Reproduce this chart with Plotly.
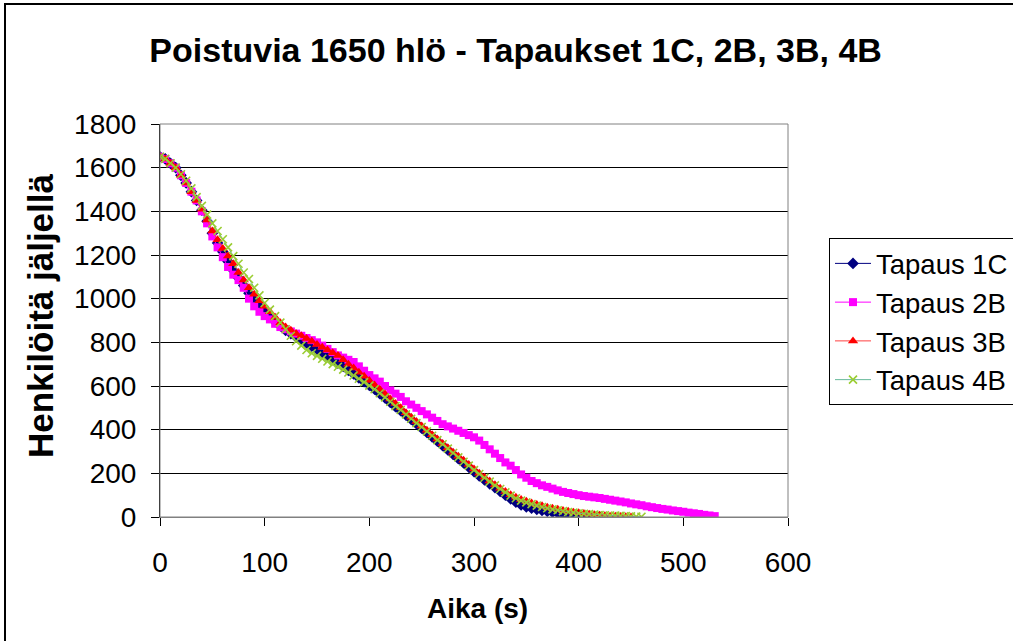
import plotly.graph_objects as go

t_1c = [0,5,10,15,20,25,30,35,40,45,50,55,60,65,70,75,80,85,90,95,
        100,105,110,115,120,125,130,135,140,145,150,155,160,165,170,175,180,185,190,195,
        200,205,210,215,220,225,230,235,240,245,250,255,260,265,270,275,280,285,290,295,
        300,305,310,315,320,325,330,335,340,345,350,355,360,365,370,375,380,385,390,395,
        400,405,410,415,420]
v_1c = [1650,1640,1620,1600,1565,1530,1490,1450,1405,1355,
        1300,1255,1215,1170,1130,1095,1060,1025,995,965,
        940,915,895,875,855,840,825,810,797,783,
        768,752,737,721,705,690,672,655,637,620,
        603,585,565,545,525,505,487,467,447,427,
        407,387,367,347,327,307,287,267,248,228,
        208,188,170,152,135,117,100,83,68,55,
        46,40,35,30,26,22,18,15,12,9,
        7,5,3,1,0]

t_2b = [0,5,10,15,20,25,30,35,40,45,50,55,60,65,70,75,80,85,90,95,
        100,105,110,115,120,125,130,135,140,145,150,155,160,165,170,175,180,185,190,195,
        200,205,210,215,220,225,230,235,240,245,250,255,260,265,270,275,280,285,290,295,
        300,305,310,315,320,325,330,335,340,345,350,355,360,365,370,375,380,385,390,395,
        400,405,410,415,420,425,430,435,440,445,450,455,460,465,470,475,480,485,490,495,
        500,505,510,515,520,525,530]
v_2b = [1650,1640,1620,1600,1565,1530,1490,1450,1400,1345,
        1285,1235,1190,1145,1110,1085,1050,1000,965,940,
        920,905,885,870,860,850,840,830,820,810,
        800,785,770,755,740,730,720,710,690,670,
        650,635,620,600,580,565,550,530,515,500,
        485,470,455,440,425,415,405,395,385,375,
        365,350,330,310,290,270,250,235,215,195,
        180,165,155,145,138,130,122,115,110,105,
        100,96,93,90,87,83,79,75,71,67,
        62,58,54,49,45,41,37,34,30,27,
        24,20,17,14,10,7,4]

t_3b = [0,5,10,15,20,25,30,35,40,45,50,55,60,65,70,75,80,85,90,95,
        100,105,110,115,120,125,130,135,140,145,150,155,160,165,170,175,180,185,190,195,
        200,205,210,215,220,225,230,235,240,245,250,255,260,265,270,275,280,285,290,295,
        300,305,310,315,320,325,330,335,340,345,350,355,360,365,370,375,380,385,390,395,
        400,405,410,415,420,425,430,435,440,445,450]
v_3b = [1650,1640,1620,1600,1565,1530,1490,1450,1410,1360,
        1310,1270,1230,1195,1160,1120,1085,1050,1020,990,
        965,940,915,890,870,855,840,830,818,805,
        790,778,765,752,740,720,700,682,663,645,
        625,605,585,563,540,520,500,478,457,437,
        417,397,377,357,337,317,297,278,260,240,
        220,200,182,165,148,132,117,102,90,80,
        72,64,57,51,45,40,35,30,26,22,
        19,16,13,10,8,6,4,3,2,1,
        0]

t_4b = [0,5,10,15,20,25,30,35,40,45,50,55,60,65,70,75,80,85,90,95,
        100,105,110,115,120,125,130,135,140,145,150,155,160,165,170,175,180,185,190,195,
        200,205,210,215,220,225,230,235,240,245,250,255,260,265,270,275,280,285,290,295,
        300,305,310,315,320,325,330,335,340,345,350,355,360,365,370,375,380,385,390,395,
        400,405,410,415,420,425,430,435,440,445,450,455,460]
v_4b = [1650,1640,1620,1600,1570,1540,1505,1465,1425,1385,
        1345,1310,1272,1235,1195,1160,1120,1090,1050,1015,
        980,950,920,890,860,830,805,785,765,750,
        738,725,712,700,688,675,662,648,633,618,
        602,585,567,548,528,508,490,470,450,430,
        412,392,372,352,333,313,293,273,253,235,
        215,197,180,162,145,128,113,98,86,75,
        67,59,52,46,40,35,31,27,23,20,
        17,15,13,11,9,8,7,6,5,4,
        3,2,1]

series_names = ["Tapaus 1C", "Tapaus 2B", "Tapaus 3B", "Tapaus 4B"]
x_ticks = [0, 100, 200, 300, 400, 500, 600]
y_ticks = [0, 200, 400, 600, 800, 1000, 1200, 1400, 1600, 1800]

FONT = "Arial, Liberation Sans, sans-serif"

fig = go.Figure()
fig.add_trace(go.Scatter(x=t_1c, y=v_1c, name=series_names[0], mode="lines+markers",
                         line=dict(color="#000080", width=1),
                         marker=dict(symbol="diamond", size=9, color="#000080")))
fig.add_trace(go.Scatter(x=t_2b, y=v_2b, name=series_names[1], mode="lines+markers",
                         line=dict(color="#FF00FF", width=1),
                         marker=dict(symbol="square", size=8, color="#FF00FF")))
fig.add_trace(go.Scatter(x=t_3b, y=v_3b, name=series_names[2], mode="lines+markers",
                         line=dict(color="#FF4040", width=1),
                         marker=dict(symbol="triangle-up", size=9, color="#FF0000")))
fig.add_trace(go.Scatter(x=t_4b, y=v_4b, name=series_names[3], mode="lines+markers",
                         line=dict(color="#66B89A", width=1),
                         marker=dict(symbol="x-thin", size=8, color="#9ACD32",
                                     line=dict(color="#9ACD32", width=1.6))))

fig.update_layout(
    width=1013, height=641,
    margin=dict(l=160, r=225, t=124, b=124, autoexpand=False),
    paper_bgcolor="white", plot_bgcolor="white",
    font=dict(family=FONT, size=28, color="black"),
    title=dict(text="<b>Poistuvia 1650 hlö - Tapaukset 1C, 2B, 3B, 4B</b>",
               x=0.509, xref="container", y=1 - 50 / 641, yref="container",
               xanchor="center", yanchor="middle",
               font=dict(family=FONT, size=34, color="black")),
    legend=dict(x=(829 - 160) / 628, y=(517 - 238) / 393, xanchor="left", yanchor="top",
                bordercolor="black", borderwidth=1, bgcolor="white", itemwidth=36,
                font=dict(family=FONT, size=27.5, color="black")),
    showlegend=True,
)

fig.update_xaxes(range=[0, 600], tickvals=x_ticks, ticktext=[str(v) for v in x_ticks],
                 showgrid=False, zeroline=False, showline=True, linecolor="#808080",
                 linewidth=1, ticks="outside", ticklen=8, tickcolor="black",
                 ticklabelstandoff=12,
                 tickfont=dict(family=FONT, size=28, color="black"))
fig.update_yaxes(range=[0, 1800], tickvals=y_ticks, ticktext=[str(v) for v in y_ticks],
                 showgrid=True, gridcolor="black", gridwidth=1, zeroline=False,
                 showline=True, linecolor="black", linewidth=1, ticks="outside",
                 ticklen=8, tickcolor="black", ticklabelstandoff=9,
                 tickfont=dict(family=FONT, size=28, color="black"))

# plot area border (top/right gray)
fig.add_shape(type="rect", xref="paper", yref="paper", x0=0, y0=0, x1=1, y1=1,
              line=dict(color="#808080", width=1), layer="above")
# outer chart border
fig.add_shape(type="rect", xref="paper", yref="paper",
              x0=(5 - 160) / 628, x1=1.6, y0=-1.0, y1=(517 - 4) / 393,
              line=dict(color="black", width=2), layer="below")

fig.add_annotation(text="<b>Aika (s)</b>", xref="paper", yref="paper",
                   x=(477 - 160) / 628, y=(517 - 608) / 393, showarrow=False,
                   xanchor="center", yanchor="middle",
                   font=dict(family=FONT, size=28, color="black"))
fig.add_annotation(text="<b>Henkilöitä jäljellä</b>", xref="paper", yref="paper",
                   x=(40 - 160) / 628, y=(517 - 315) / 393, showarrow=False, textangle=-90,
                   xanchor="center", yanchor="middle",
                   font=dict(family=FONT, size=35, color="black"))

fig.write_html("out.html")
